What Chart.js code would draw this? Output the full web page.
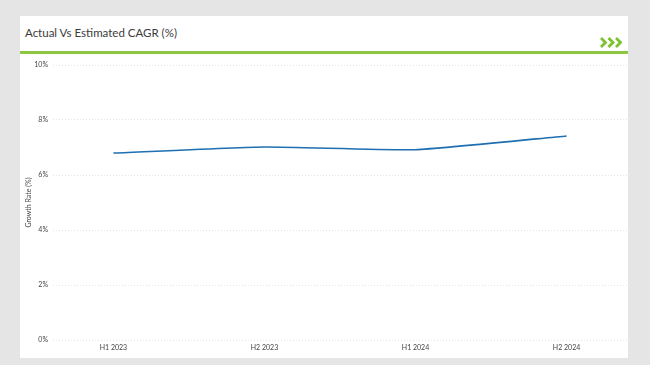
<!DOCTYPE html>
<html>
<head>
<meta charset="utf-8">
<script src="https://cdn.jsdelivr.net/npm/chart.js@4"></script>
<style>
  body { margin: 0; background: #e5e5e5; width: 650px; height: 365px; overflow: hidden; font-family: Lato, "Open Sans", sans-serif; }
  .card { position: absolute; left: 20px; top: 16px; width: 608px; height: 342px; background: #fff; }
  .head { position: absolute; left: 0; top: 0; width: 608px; height: 35px; border-bottom: 3px solid #8dc641; }
  .head h2 { margin: 0; position: absolute; left: 5px; top: 10px; font-size: 11.5px; font-weight: normal; color: #3a3a3a; }
  .head svg { position: absolute; right: 2px; top: 21px; }
  .plot { position: absolute; left: 0; top: 39px; width: 608px; height: 300px; }
</style>
</head>
<body>
<div class="card">
  <div class="head">
    <h2>Actual Vs Estimated CAGR (%)</h2>
    <svg width="26" height="11" viewBox="0 0 26 11">
      <polyline points="1,1 5.5,5.5 1,10" fill="none" stroke="#7cc22e" stroke-width="2.8"/>
      <polyline points="8.5,1 13,5.5 8.5,10" fill="none" stroke="#7cc22e" stroke-width="2.8"/>
      <polyline points="16,1 20.5,5.5 16,10" fill="none" stroke="#7cc22e" stroke-width="2.8"/>
    </svg>
  </div>
  <div class="plot"><canvas id="chart" width="608" height="300"></canvas></div>
</div>
<script>
const periods = ["H1 2023", "H2 2023", "H1 2024", "H2 2024"];
const growthRate = [6.8, 7.02, 6.92, 7.42];
const yTicks = [0, 2, 4, 6, 8, 10];

const ctx = document.getElementById("chart").getContext("2d");
new Chart(ctx, {
  type: "line",
  data: {
    datasets: [{
      label: "Growth Rate",
      data: growthRate.map((v, i) => ({x: i, y: v})),
      borderColor: "#1f6fb2",
      borderWidth: 1.6,
      pointRadius: 0,
      tension: 0.15,
      fill: false
    }]
  },
  options: {
    responsive: false,
    animation: false,
    layout: {padding: {top: 10, right: 1, left: 0, bottom: 0}},
    plugins: {legend: {display: false}, tooltip: {enabled: false}},
    scales: {
      x: {
        type: "linear",
        min: -0.4,
        max: 3.4,
        afterBuildTicks: (axis) => { axis.ticks = periods.map((p, i) => ({value: i})); },
        afterFit: (axis) => { axis.height = 15; },
        grid: {display: false, drawTicks: false},
        border: {display: false},
        ticks: {
          padding: 4,
          color: "#444",
          font: {family: "Lato", size: 7},
          maxRotation: 0,
          callback: (v) => periods[v]
        }
      },
      y: {
        min: 0,
        max: 10,
        afterBuildTicks: (axis) => { axis.ticks = yTicks.map(v => ({value: v})); },
        afterFit: (axis) => { axis.width = 33; },
        grid: {color: "#e3e3e3", lineWidth: 1, drawTicks: false},
        border: {display: false, dash: [1, 2]},
        ticks: {
          padding: 5,
          color: "#444",
          font: {family: "Lato", size: 7},
          callback: (v) => v + "%"
        },
        title: {
          display: true,
          text: "Growth Rate (%)",
          color: "#444",
          font: {family: "Lato", size: 7},
          padding: {top: 5, bottom: 0}
        }
      }
    }
  }
});
</script>
</body>
</html>
